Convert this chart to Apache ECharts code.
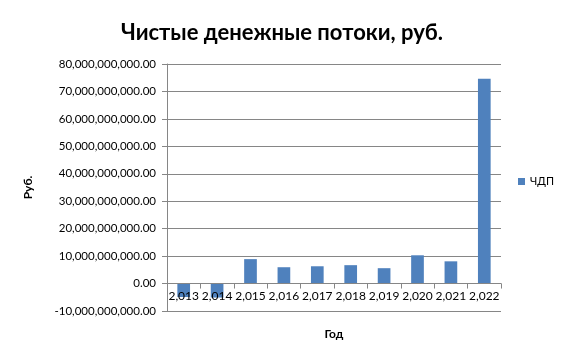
<!DOCTYPE html>
<html><head><meta charset="utf-8">
<script src="https://cdn.jsdelivr.net/npm/echarts@6/dist/echarts.min.js"></script>
<style>html,body{margin:0;padding:0;background:#fff}#c{width:564px;height:361px}</style>
</head><body><div id="c"></div>
<script>
var categories = ['2,013','2,014','2,015','2,016','2,017','2,018','2,019','2,020','2,021','2,022'];
var values = [-4.9e9, -5.1e9, 8.9e9, 5.95e9, 6.3e9, 6.7e9, 5.6e9, 10.3e9, 8.1e9, 74.6e9];
var seriesName = 'ЧДП';
var titleText = 'Чистые денежные потоки, руб.';
var yName = 'Руб.';
var xName = 'Год';

function fmt(v){
  var neg = v < 0; v = Math.abs(v);
  var s = Math.round(v).toString().replace(/\B(?=(\d{3})+(?!\d))/g, ',');
  return (neg ? '-' : '') + s + '.00';
}
var font = 'Lato, "Open Sans", sans-serif';
var chart = echarts.init(document.getElementById('c'));
var gridBottom = 50;
chart.setOption({
  animation: false,
  title: { text: titleText, left: 'center', top: 17, textStyle: { fontFamily: font, fontSize: 22, fontWeight: 'bold', color: '#000' } },
  legend: { data: [seriesName], orient: 'vertical', left: 513, top: 171, itemWidth: 7, itemHeight: 7, itemGap: 5,
    textStyle: { fontFamily: font, fontSize: 11, color: '#000' }, icon: 'rect' },
  grid: { left: 167, right: 63, top: 64, bottom: gridBottom, containLabel: false, outerBoundsMode: 'none' },
  xAxis: { type: 'category', data: categories, name: xName, nameLocation: 'middle', nameGap: 45, z: 5,
    nameTextStyle: { fontFamily: font, fontSize: 12, fontWeight: 'bold', color: '#000' },
    axisLine: { show: true, onZero: false, lineStyle: { color: '#868686' } },
    axisTick: { show: true, alignWithLabel: false, length: 5, lineStyle: { color: '#868686' } },
    axisLabel: { fontFamily: font, fontSize: 12, color: '#000', margin: 7, interval: 0 } },
  yAxis: { type: 'value', min: -10e9, max: 80e9, interval: 10e9, name: yName, nameLocation: 'middle', nameGap: 133, nameRotate: 90,
    nameTextStyle: { fontFamily: font, fontSize: 12, fontWeight: 'bold', color: '#000' },
    axisLine: { show: true, lineStyle: { color: '#868686' } },
    axisTick: { show: true, length: 5, lineStyle: { color: '#868686' } },
    splitLine: { lineStyle: { color: '#868686' } },
    axisLabel: { fontFamily: font, fontSize: 11.5, color: '#000', margin: 11, formatter: fmt } },
  series: [{ name: seriesName, type: 'bar', data: values, barWidth: '38%', z: 2, itemStyle: { color: '#4f81bd' } }]
});
// move the category axis up to the zero line, using the value axis scale
var zeroY = chart.convertToPixel({ yAxisIndex: 0 }, 0);
var minY = chart.convertToPixel({ yAxisIndex: 0 }, -10e9);
chart.setOption({ xAxis: { offset: -(minY - zeroY) } });
</script></body></html>
